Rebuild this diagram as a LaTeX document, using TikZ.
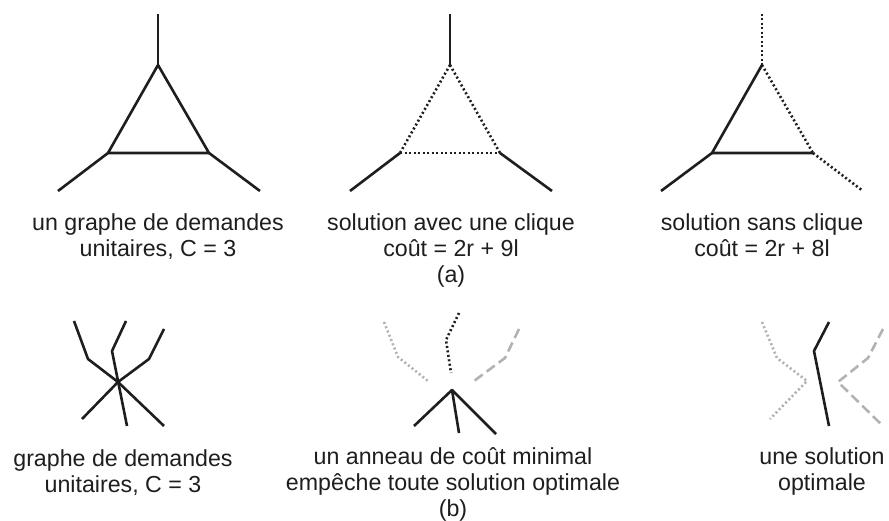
\documentclass[tikz,border=0pt]{standalone}
\usepackage{fontspec}
\setmainfont{Liberation Sans}
\definecolor{ink}{RGB}{30,30,30}
\definecolor{lightg}{RGB}{178,178,178}
\tikzset{
  solidl/.style={draw=ink, line width=2.6pt, line join=round},
  dotl/.style={draw=ink, line width=2.6pt, dash pattern=on 2pt off 2.5pt},
  gdotl/.style={draw=lightg, line width=2.6pt, dash pattern=on 2pt off 2.6pt},
  gdashl/.style={draw=lightg, line width=2.6pt, dash pattern=on 10pt off 5pt},
  lbl/.style={font=\fontsize{23.2}{26}\selectfont, text=ink, align=center, anchor=base, inner sep=0pt}
}
\begin{document}
\begin{tikzpicture}[x=1pt, y=-1pt]
\useasboundingbox (0,0) rectangle (889,521);
% ---------- (a) panel 1
\coordinate (a1s) at (158,14);
\coordinate (a1t) at (158,65);
\coordinate (a1l) at (108,153);
\coordinate (a1r) at (209,153);
\coordinate (a1le) at (58,191);
\coordinate (a1re) at (260,191);
\draw[solidl] (a1s) -- (a1t);
\draw[solidl] (a1t) -- (a1l) -- (a1r) -- cycle;
\draw[solidl] (a1l) -- (a1le);
\draw[solidl] (a1r) -- (a1re);
\node[lbl] (t1) at (158,257) {un graphe de demandes\\unitaires, C = 3};
% ---------- (a) panel 2
\coordinate (a2s) at (450,14);
\coordinate (a2t) at (450,65);
\coordinate (a2l) at (400,153);
\coordinate (a2r) at (500,153);
\coordinate (a2le) at (350,191);
\coordinate (a2re) at (552,191);
\draw[solidl] (a2s) -- (a2t);
\draw[dotl] (a2t) -- (a2l);
\draw[dotl] (a2l) -- (a2r);
\draw[dotl] (a2t) -- (a2r);
\draw[solidl] (a2l) -- (a2le);
\draw[solidl] (a2r) -- (a2re);
\node[lbl] (t2) at (451,283) {solution avec une clique\\coût = 2r + 9l\\(a)};
% ---------- (a) panel 3
\coordinate (a3s) at (762,14);
\coordinate (a3t) at (762,65);
\coordinate (a3l) at (712,153);
\coordinate (a3r) at (813,153);
\coordinate (a3le) at (661,191);
\coordinate (a3re) at (863,191);
\draw[dotl] (a3s) -- (a3t);
\draw[solidl] (a3t) -- (a3l) -- (a3r);
\draw[dotl] (a3t) -- (a3r);
\draw[solidl] (a3l) -- (a3le);
\draw[dotl] (a3r) -- (a3re);
\node[lbl] (t3) at (762,257) {solution sans clique\\coût = 2r + 8l};
% ---------- (b) panel 1
\coordinate (b1c) at (118,382);
\coordinate (b1a1) at (74,321);
\coordinate (b1a2) at (88,359);
\coordinate (b1a3) at (164,426);
\coordinate (b1c1) at (164,329);
\coordinate (b1c2) at (149,359);
\coordinate (b1c3) at (82,419);
\coordinate (b1b1) at (126,321);
\coordinate (b1b2) at (112,351);
\coordinate (b1b3) at (127,426);
\draw[solidl] (b1a1) -- (b1a2) -- (b1c) -- (b1a3);
\draw[solidl] (b1c1) -- (b1c2) -- (b1c) -- (b1c3);
\draw[solidl] (b1b1) -- (b1b2) -- (b1b3);
\node[lbl] (t4) at (123,492) {graphe de demandes\\unitaires, C = 3};
% ---------- (b) panel 2
\coordinate (b2g1) at (384,322);
\coordinate (b2g2) at (398,357);
\coordinate (b2g3) at (428,381);
\coordinate (b2k1) at (459,313);
\coordinate (b2k2) at (446,340);
\coordinate (b2k3) at (451,373);
\coordinate (b2d1) at (519,329);
\coordinate (b2d2) at (505,358);
\coordinate (b2d3) at (474,381);
\coordinate (b2c) at (452,390);
\coordinate (b2e1) at (414,426);
\coordinate (b2e2) at (459,433);
\coordinate (b2e3) at (496,434);
\draw[gdotl] (b2g1) -- (b2g2) -- (b2g3);
\draw[dotl] (b2k1) -- (b2k2) -- (b2k3);
\draw[gdashl] (b2d1) -- (b2d2) -- (b2d3);
\draw[solidl] (b2e1) -- (b2c) -- (b2e2);
\draw[solidl] (b2c) -- (b2e3);
\node[lbl] (t5) at (453,516) {un anneau de coût minimal\\empêche toute solution optimale\\(b)};
% ---------- (b) panel 3
\coordinate (b3g1) at (762,322);
\coordinate (b3g2) at (777,358);
\coordinate (b3g3) at (807,381);
\coordinate (b3g4) at (770,419);
\coordinate (b3k1) at (829,322);
\coordinate (b3k2) at (814,351);
\coordinate (b3k3) at (829,426);
\coordinate (b3d1) at (883,329);
\coordinate (b3d2) at (868,358);
\coordinate (b3d3) at (838,382);
\coordinate (b3d4) at (883,426);
\draw[gdotl] (b3g1) -- (b3g2) -- (b3g3) -- (b3g4);
\draw[solidl] (b3k1) -- (b3k2) -- (b3k3);
\draw[gdashl] (b3d1) -- (b3d2) -- (b3d3) -- (b3d4);
\node[lbl] (t6) at (822,490) {une solution\\optimale};
\end{tikzpicture}
\end{document}
